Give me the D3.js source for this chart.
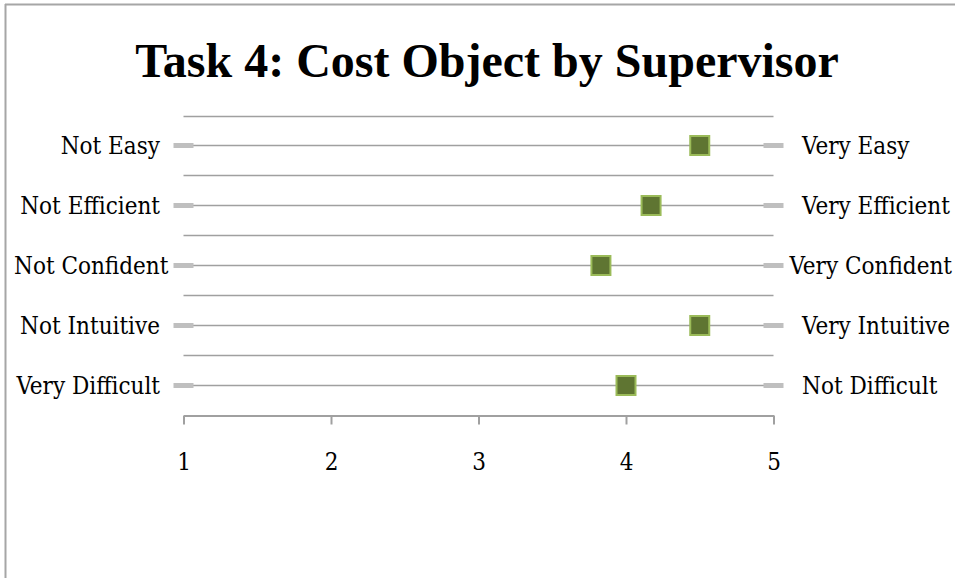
<!DOCTYPE html>
<html>
<head>
<meta charset="utf-8">
<script src="https://cdn.jsdelivr.net/npm/d3@7"></script>
<style>
  html, body { margin: 0; padding: 0; background: #fff; overflow: hidden; }
  svg { display: block; }
  .lbl { font-family: "DejaVu Serif Condensed", "DejaVu Serif", serif; font-size: 24px; fill: #000; }
</style>
</head>
<body>
<div id="chart"></div>
<script>
// ---- Data ----
const title = "Task 4: Cost Object by Supervisor";
const leftLabels = ["Not Easy", "Not Efficient", "Not Confident", "Not Intuitive", "Very Difficult"];
const rightLabels = ["Very Easy", "Very Efficient", "Very Confident", "Very Intuitive", "Not Difficult"];
const scores = [4.5, 4.17, 3.83, 4.5, 4.0];
const tickValues = [1, 2, 3, 4, 5];

const W = 955, H = 578;

const svg = d3.select("#chart").append("svg")
  .attr("width", W)
  .attr("height", H);

// ---- Frame (only top and left edges are visible) ----
svg.append("line").attr("x1", 5).attr("x2", W).attr("y1", 4.5).attr("y2", 4.5)
  .attr("stroke", "#a6a6a6").attr("stroke-width", 2);
svg.append("line").attr("x1", 5.5).attr("x2", 5.5).attr("y1", 4).attr("y2", H)
  .attr("stroke", "#a6a6a6").attr("stroke-width", 2);

// ---- Title ----
svg.append("text")
  .attr("x", 487).attr("y", 77)
  .attr("text-anchor", "middle")
  .style("font-family", "'Liberation Serif', serif")
  .style("font-weight", "bold")
  .style("font-size", "48px")
  .text(title);

// ---- Scales ----
const x = d3.scaleLinear().domain([1, 5]).range([183.5, 773.5]);
const y = d3.scaleBand().domain(d3.range(scores.length)).range([115.5, 414.5]);
const yc = i => Math.round(y(i) + y.bandwidth() / 2) + 0.5;

// ---- Separator lines at band tops ----
svg.selectAll("line.sep")
  .data(d3.range(scores.length))
  .join("line")
  .attr("class", "sep")
  .attr("x1", x(1)).attr("x2", x(5))
  .attr("y1", i => Math.round(y(i)) + 0.5).attr("y2", i => Math.round(y(i)) + 0.5)
  .attr("stroke", "#a0a0a0").attr("stroke-width", 1.5);

// ---- Row lines ----
svg.selectAll("line.row")
  .data(scores)
  .join("line")
  .attr("class", "row")
  .attr("x1", x(1)).attr("x2", x(5))
  .attr("y1", (d, i) => yc(i)).attr("y2", (d, i) => yc(i))
  .attr("stroke", "#a0a0a0").attr("stroke-width", 1.5);

// ---- End caps ----
const caps = [];
scores.forEach((d, i) => { caps.push({ v: 1, i }); caps.push({ v: 5, i }); });
svg.selectAll("rect.cap")
  .data(caps)
  .join("rect")
  .attr("class", "cap")
  .attr("x", d => x(d.v) - 10).attr("width", 20)
  .attr("y", d => yc(d.i) - 2.5).attr("height", 5)
  .attr("fill", "#bfbfbf");

// ---- Axis ----
const axis = svg.append("g")
  .attr("transform", `translate(0,${Math.round(y.range()[1]) + 0.5})`)
  .call(d3.axisBottom(x).tickValues(tickValues).tickFormat(d3.format("d"))
    .tickSize(9).tickSizeOuter(0).tickPadding(28));
axis.select(".domain").attr("stroke", "#a0a0a0").attr("stroke-width", 2);
axis.selectAll(".tick line").attr("stroke", "#a0a0a0").attr("stroke-width", 2);
axis.selectAll(".tick text")
  .attr("class", "lbl")
  .style("font-family", "'DejaVu Serif Condensed', 'DejaVu Serif', serif")
  .style("font-size", "24px")
  .attr("fill", "#000");

// ---- Category labels ----
svg.selectAll("text.left")
  .data(leftLabels)
  .join("text")
  .attr("class", "lbl left")
  .attr("y", (d, i) => yc(i))
  .attr("dy", "0.36em")
  .text(d => d)
  .each(function () {
    const w = this.getComputedTextLength();
    d3.select(this).attr("x", Math.max(14, 160 - w));
  });

svg.selectAll("text.right")
  .data(rightLabels)
  .join("text")
  .attr("class", "lbl right")
  .attr("y", (d, i) => yc(i))
  .attr("dy", "0.36em")
  .text(d => d)
  .each(function () {
    const w = this.getComputedTextLength();
    d3.select(this).attr("x", Math.min(802, 952 - w));
  });

// ---- Markers ----
svg.selectAll("rect.marker")
  .data(scores)
  .join("rect")
  .attr("class", "marker")
  .attr("x", d => x(d) - 9.5).attr("width", 19)
  .attr("y", (d, i) => yc(i) - 9.5).attr("height", 19)
  .attr("fill", "#5f7532")
  .attr("stroke", "#9bbb59")
  .attr("stroke-width", 2);
</script>
</body>
</html>
